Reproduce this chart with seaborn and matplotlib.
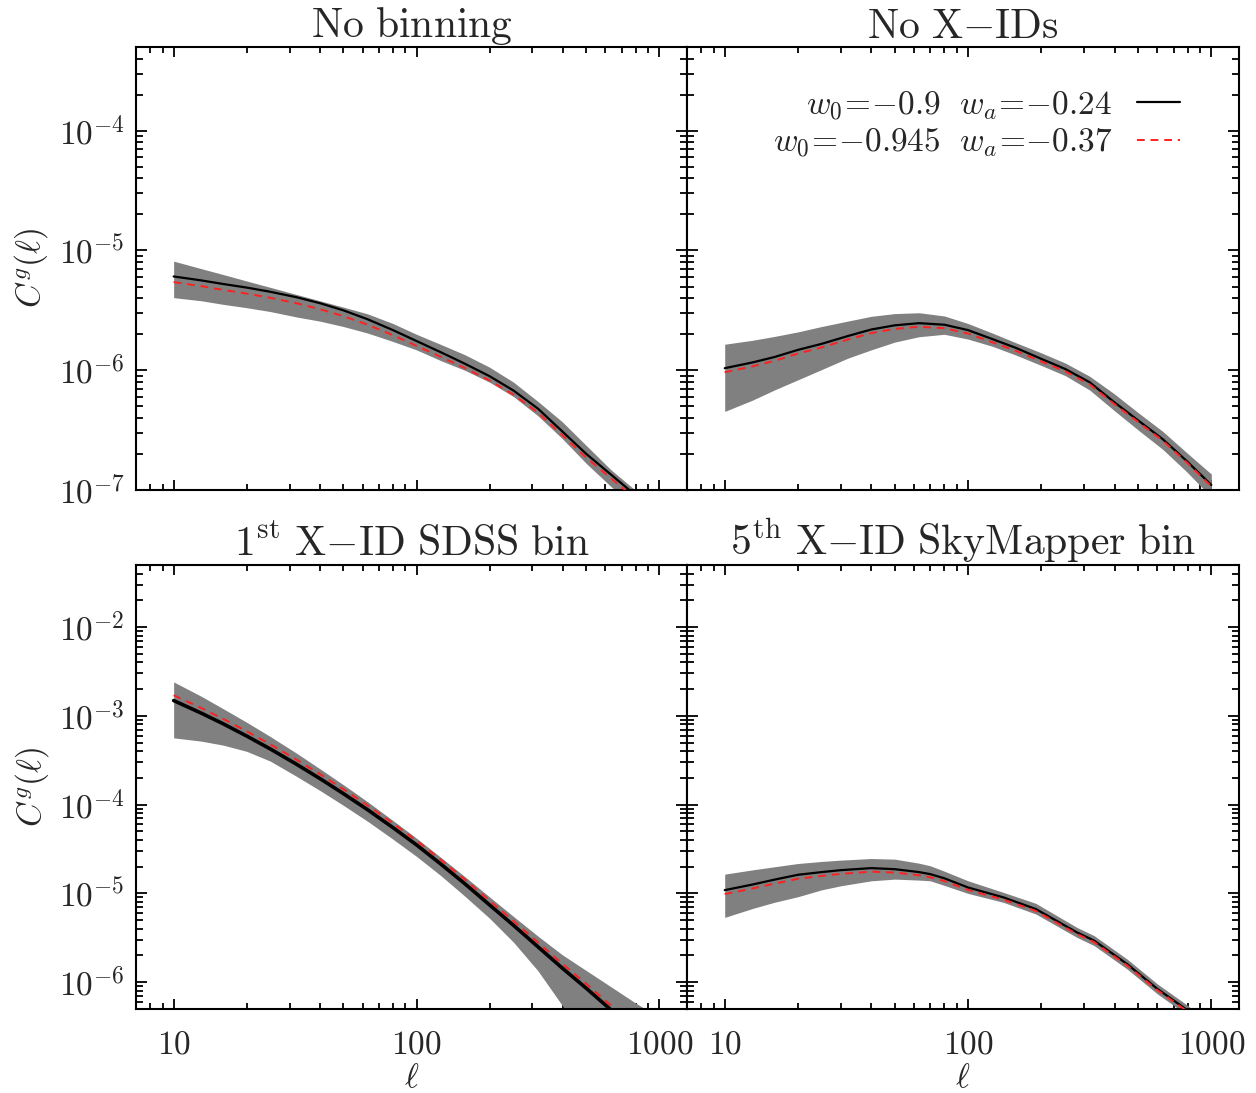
import numpy as np
import matplotlib
matplotlib.use("Agg")
import matplotlib.pyplot as plt
import matplotlib.ticker as mticker
import seaborn as sns

# Values (log10 of C^g(l))
ell_grid = [10, 13, 16, 20, 25, 32, 40, 50, 63, 80, 100, 126, 158, 200, 251, 316, 398, 501, 631, 794, 1000]

tl_black = [-5.217, -5.25, -5.28, -5.31, -5.345, -5.39, -5.44, -5.50, -5.575, -5.665, -5.756,
            -5.85, -5.945, -6.05, -6.17, -6.32, -6.51, -6.70, -6.87, -7.04, -7.26]
tl_red = [-5.264, -5.298, -5.329, -5.36, -5.395, -5.44, -5.49, -5.548, -5.62, -5.707, -5.796,
          -5.888, -5.981, -6.085, -6.204, -6.352, -6.54, -6.73, -6.90, -7.07, -7.29]
tl_hi = [-5.089, -5.152, -5.201, -5.255, -5.308, -5.367, -5.42, -5.473, -5.53, -5.61, -5.70,
         -5.785, -5.87, -5.975, -6.10, -6.26, -6.43, -6.63, -6.83, -7.0, -7.18]
tl_lo = [-5.394, -5.42, -5.45, -5.478, -5.51, -5.555, -5.59, -5.635, -5.69, -5.76, -5.83,
         -5.92, -6.0, -6.10, -6.22, -6.38, -6.57, -6.78, -6.97, -7.15, -7.35]

tr_black = [-5.983, -5.935, -5.89, -5.83, -5.78, -5.715, -5.66, -5.625, -5.607, -5.62, -5.665,
            -5.74, -5.815, -5.905, -5.99, -6.10, -6.265, -6.42, -6.575, -6.76, -6.958]
tr_red = [-6.017, -5.968, -5.922, -5.861, -5.81, -5.745, -5.69, -5.655, -5.637, -5.649, -5.693,
          -5.766, -5.839, -5.926, -6.008, -6.116, -6.279, -6.432, -6.586, -6.77, -6.968]
tr_hi = [-5.783, -5.75, -5.718, -5.68, -5.635, -5.59, -5.55, -5.527, -5.52, -5.547, -5.61,
         -5.69, -5.772, -5.855, -5.94, -6.05, -6.195, -6.355, -6.51, -6.69, -6.867]
tr_lo = [-6.344, -6.25, -6.165, -6.08, -5.995, -5.90, -5.83, -5.765, -5.72, -5.70, -5.74,
         -5.80, -5.875, -5.96, -6.045, -6.165, -6.335, -6.50, -6.66, -6.85, -7.06]

bl_black = [-2.828, -2.970, -3.09, -3.228, -3.373, -3.544, -3.706, -3.876, -4.059, -4.259, -4.453,
            -4.67, -4.89, -5.13, -5.36, -5.60, -5.84, -6.07, -6.31, -6.57, -6.85]
bl_red = [-2.768, -2.912, -3.034, -3.174, -3.32, -3.492, -3.655, -3.826, -4.009, -4.209, -4.403,
          -4.62, -4.84, -5.08, -5.31, -5.55, -5.79, -6.02, -6.26, -6.52, -6.80]
bl_hi = [-2.618, -2.78, -2.92, -3.073, -3.233, -3.419, -3.596, -3.776, -3.969, -4.179, -4.378,
         -4.595, -4.81, -5.04, -5.26, -5.48, -5.69, -5.87, -6.05, -6.23, -6.40]
bl_lo = [-3.248, -3.285, -3.33, -3.40, -3.51, -3.68, -3.84, -4.008, -4.189, -4.389, -4.583,
         -4.80, -5.03, -5.28, -5.55, -5.87, -6.26, -6.72, -7.21, -7.77, -8.35]

ell_br = [10, 13, 16, 20, 25, 30, 40, 50, 63, 70, 80, 100, 140, 190, 280, 330, 450, 600, 800, 1000]
br_black = [-4.963, -4.90, -4.845, -4.79, -4.76, -4.738, -4.715, -4.727, -4.76, -4.783, -4.83, -4.933,
            -5.045, -5.176, -5.438, -5.532, -5.794, -6.075, -6.318, -6.55]
br_red = [-5.007, -4.945, -4.89, -4.835, -4.803, -4.78, -4.755, -4.765, -4.795, -4.818, -4.86, -4.96,
          -5.07, -5.196, -5.455, -5.548, -5.808, -6.088, -6.33, -6.56]
br_hi = [-4.783, -4.735, -4.70, -4.663, -4.64, -4.625, -4.607, -4.614, -4.66, -4.689, -4.75, -4.858,
         -4.989, -5.112, -5.382, -5.476, -5.738, -6.019, -6.262, -6.5]
br_lo = [-5.27, -5.17, -5.10, -5.037, -4.96, -4.914, -4.858, -4.839, -4.85, -4.858, -4.91, -5.0,
         -5.101, -5.232, -5.494, -5.588, -5.85, -6.131, -6.374, -6.6]

titles = [r'$\mathrm{No\ binning}$', r'$\mathrm{No\ X{-}IDs}$',
          r'$\mathrm{1^{st}\ X{-}ID\ SDSS\ bin}$', r'$\mathrm{5^{th}\ X{-}ID\ SkyMapper\ bin}$']
label_black = r'$w_0\!=\!{-}0.9\ \ w_a\!=\!{-}0.24$'
label_red = r'$w_0\!=\!{-}0.945\ \ w_a\!=\!{-}0.37$'

sns.set_theme(style="ticks")
plt.rcParams['mathtext.fontset'] = 'cm'
plt.rcParams['font.family'] = ['DejaVu Serif']
plt.rcParams['axes.linewidth'] = 1.5

fig = plt.figure(figsize=(12.56, 10.93), dpi=100)
positions = [
    [0.1083, 0.5517, 0.4387, 0.4053],
    [0.5470, 0.5517, 0.4395, 0.4053],
    [0.1083, 0.0769, 0.4387, 0.4062],
    [0.5470, 0.0769, 0.4395, 0.4062],
]
panels = [
    (ell_grid, tl_black, tl_red, tl_hi, tl_lo),
    (ell_grid, tr_black, tr_red, tr_hi, tr_lo),
    (ell_grid, bl_black, bl_red, bl_hi, bl_lo),
    (ell_br, br_black, br_red, br_hi, br_lo),
]
black_lw = [1.6, 1.6, 2.6, 1.6]

for i, (pos, data) in enumerate(zip(positions, panels)):
    ell, blk, red, hi, lo = data
    ax = fig.add_axes(pos)
    ax.set_xscale('log')
    ax.set_yscale('log')
    ax.fill_between(ell, 10 ** np.array(lo), 10 ** np.array(hi), color='#808080', lw=0, zorder=1)
    sns.lineplot(x=ell, y=10 ** np.array(blk), ax=ax, color='black', lw=black_lw[i],
                 label=label_black if i == 1 else None, legend=False, zorder=3)
    sns.lineplot(x=ell, y=10 ** np.array(red), ax=ax, color='#ff2020', lw=1.4,
                 linestyle=(0, (4, 3)), label=label_red if i == 1 else None, legend=False, zorder=4)

    ax.set_xlim(7, 1300)
    if i < 2:
        ax.set_ylim(1e-7, 5e-4)
        ymaj = [1e-7, 1e-6, 1e-5, 1e-4]
    else:
        ax.set_ylim(5e-7, 5e-2)
        ymaj = [1e-6, 1e-5, 1e-4, 1e-3, 1e-2]

    ax.xaxis.set_major_locator(mticker.FixedLocator([10, 100, 1000]))
    ax.xaxis.set_minor_locator(mticker.LogLocator(base=10, subs=np.arange(2, 10)))
    ax.yaxis.set_major_locator(mticker.FixedLocator(ymaj))
    ax.yaxis.set_minor_locator(mticker.LogLocator(base=10, subs=np.arange(2, 10), numticks=20))
    ax.xaxis.set_minor_formatter(mticker.NullFormatter())
    ax.yaxis.set_minor_formatter(mticker.NullFormatter())

    if i >= 2:
        ax.xaxis.set_major_formatter(mticker.FixedFormatter([r'$10$', r'$100$', r'$1000$']))
        ax.set_xlabel(r'$\ell$', fontsize=24, labelpad=1)
    else:
        ax.xaxis.set_major_formatter(mticker.NullFormatter())
    if i % 2 == 0:
        ax.yaxis.set_major_formatter(mticker.FixedFormatter(
            [r'$10^{%d}$' % int(round(np.log10(v))) for v in ymaj]))
        ax.set_ylabel(r'$C^g(\ell)$', fontsize=24, labelpad=6)
    else:
        ax.yaxis.set_major_formatter(mticker.NullFormatter())

    ax.tick_params(axis='both', which='both', direction='in', top=True, right=True,
                   labelsize=24, width=1.3, color='black')
    ax.tick_params(axis='x', which='major', length=7, pad=14)
    ax.tick_params(axis='x', which='minor', length=4)
    ax.tick_params(axis='y', which='major', length=8, pad=8)
    ax.tick_params(axis='y', which='minor', length=5)
    for sp in ax.spines.values():
        sp.set_color('black')
        sp.set_linewidth(1.5)

    ax.set_title(titles[i], fontsize=30, pad=6)

    if i == 1:
        ax.legend(loc='upper right', bbox_to_anchor=(0.918, 0.935), frameon=False,
                  markerfirst=False, fontsize=24, handlelength=1.3, handletextpad=0.75,
                  labelspacing=0.12, borderaxespad=0)

fig.savefig('out.png', dpi=100)
plt.close(fig)
